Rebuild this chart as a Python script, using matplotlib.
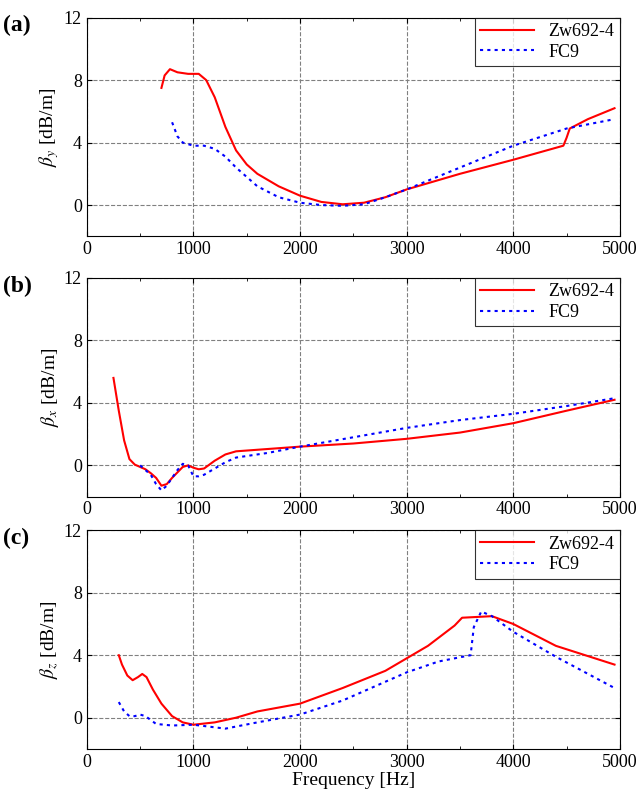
import numpy as np
import matplotlib
matplotlib.use("Agg")
import matplotlib.pyplot as plt

plt.rcParams['font.family'] = ['Liberation Serif', 'DejaVu Serif']
plt.rcParams['mathtext.fontset'] = 'stix'

# (a) beta_y
a_zw_f = [700, 730, 780, 850, 950, 1050, 1120, 1200, 1300, 1400, 1500, 1600, 1800, 2000, 2200, 2400, 2600, 2800, 3000, 3500, 4000, 4470, 4500, 4530, 4700, 4950]
a_zw_v = [7.5, 8.3, 8.7, 8.5, 8.4, 8.4, 8.0, 6.9, 5.0, 3.5, 2.6, 2.0, 1.2, 0.6, 0.2, 0.05, 0.15, 0.5, 1.0, 2.0, 2.9, 3.8, 4.3, 4.9, 5.5, 6.2]
a_fc_f = [800, 850, 900, 1000, 1100, 1200, 1300, 1400, 1500, 1600, 1800, 2000, 2200, 2400, 2600, 2800, 3000, 3500, 4000, 4500, 4950]
a_fc_v = [5.3, 4.4, 4.0, 3.8, 3.8, 3.6, 3.1, 2.4, 1.8, 1.2, 0.5, 0.15, 0.0, -0.05, 0.05, 0.5, 1.0, 2.4, 3.8, 4.9, 5.5]

# (b) beta_x
b_zw_f = [250, 300, 350, 400, 450, 500, 550, 600, 650, 700, 750, 800, 900, 950, 1000, 1050, 1100, 1200, 1300, 1400, 1500, 1700, 2000, 2500, 3000, 3500, 4000, 4500, 4950]
b_zw_v = [5.6, 3.5, 1.6, 0.4, 0.05, -0.1, -0.25, -0.5, -0.8, -1.3, -1.2, -0.8, -0.1, 0.0, -0.15, -0.25, -0.2, 0.3, 0.7, 0.9, 0.95, 1.05, 1.2, 1.4, 1.7, 2.1, 2.7, 3.5, 4.2]
b_fc_f = [500, 550, 600, 650, 700, 750, 800, 850, 900, 950, 1000, 1050, 1100, 1200, 1300, 1400, 1500, 1700, 2000, 2500, 3000, 3500, 4000, 4500, 4950]
b_fc_v = [0.0, -0.3, -0.6, -1.2, -1.6, -1.3, -0.8, -0.3, 0.1, 0.0, -0.7, -0.7, -0.6, -0.2, 0.2, 0.5, 0.6, 0.8, 1.2, 1.8, 2.4, 2.9, 3.3, 3.8, 4.3]

# (c) beta_z
c_zw_f = [300, 330, 380, 430, 480, 520, 560, 620, 700, 800, 900, 1000, 1200, 1400, 1600, 2000, 2400, 2800, 3200, 3450, 3520, 3800, 4000, 4400, 4950]
c_zw_v = [4.0, 3.4, 2.7, 2.4, 2.6, 2.8, 2.6, 1.8, 0.9, 0.1, -0.3, -0.45, -0.3, 0.0, 0.4, 0.9, 1.9, 3.0, 4.6, 5.9, 6.4, 6.5, 6.0, 4.6, 3.4]
c_fc_f = [300, 350, 400, 450, 500, 550, 650, 800, 1000, 1300, 1600, 2000, 2400, 2800, 3000, 3300, 3600, 3630, 3700, 3800, 4000, 4400, 4950]
c_fc_v = [1.0, 0.4, 0.1, 0.1, 0.2, 0.1, -0.4, -0.5, -0.45, -0.7, -0.3, 0.2, 1.1, 2.3, 2.9, 3.6, 4.0, 5.8, 6.8, 6.5, 5.5, 3.9, 1.9]

panels = [
    ('(a)', r'$\beta_y$', a_zw_f, a_zw_v, a_fc_f, a_fc_v),
    ('(b)', r'$\beta_x$', b_zw_f, b_zw_v, b_fc_f, b_fc_v),
    ('(c)', r'$\beta_z$', c_zw_f, c_zw_v, c_fc_f, c_fc_v),
]

fig = plt.figure(figsize=(6.43, 8.01), dpi=100)
tops = [0.978, 0.653, 0.338]
h = 0.273
for (lab, yl, zf, zv, ff, fv), top in zip(panels, tops):
    ax = fig.add_axes([0.135, top - h, 0.829, h])
    ax.plot(zf, zv, color='red', lw=1.5, label='Zw692-4')
    ax.plot(ff, fv, color='blue', lw=1.5, ls=(0, (1.5, 2)), label='FC9')
    ax.set_xlim(0, 5000)
    ax.set_ylim(-2, 12)
    ax.set_xticks([0, 1000, 2000, 3000, 4000, 5000])
    ax.set_xticks([500, 1500, 2500, 3500, 4500], minor=True)
    ax.set_yticks([0, 4, 8, 12])
    ax.tick_params(direction='in', top=True, right=True, which='both', labelsize=13)
    ax.grid(True, ls='--', color='gray', lw=0.8)
    ax.set_ylabel(yl + ' [dB/m]', fontsize=14, labelpad=2)
    leg = ax.legend(loc='upper right', fontsize=13, fancybox=False, edgecolor='black',
                    borderaxespad=0, handlelength=3, borderpad=0.3, labelspacing=0.2)
    leg.get_frame().set_linewidth(0.8)
    fig.text(0.005, top + 0.003, lab, fontsize=17, fontweight='bold', va='top')
    if lab == '(c)':
        ax.set_xlabel('Frequency [Hz]', fontsize=14, labelpad=1)

fig.savefig('out.png', dpi=100)
